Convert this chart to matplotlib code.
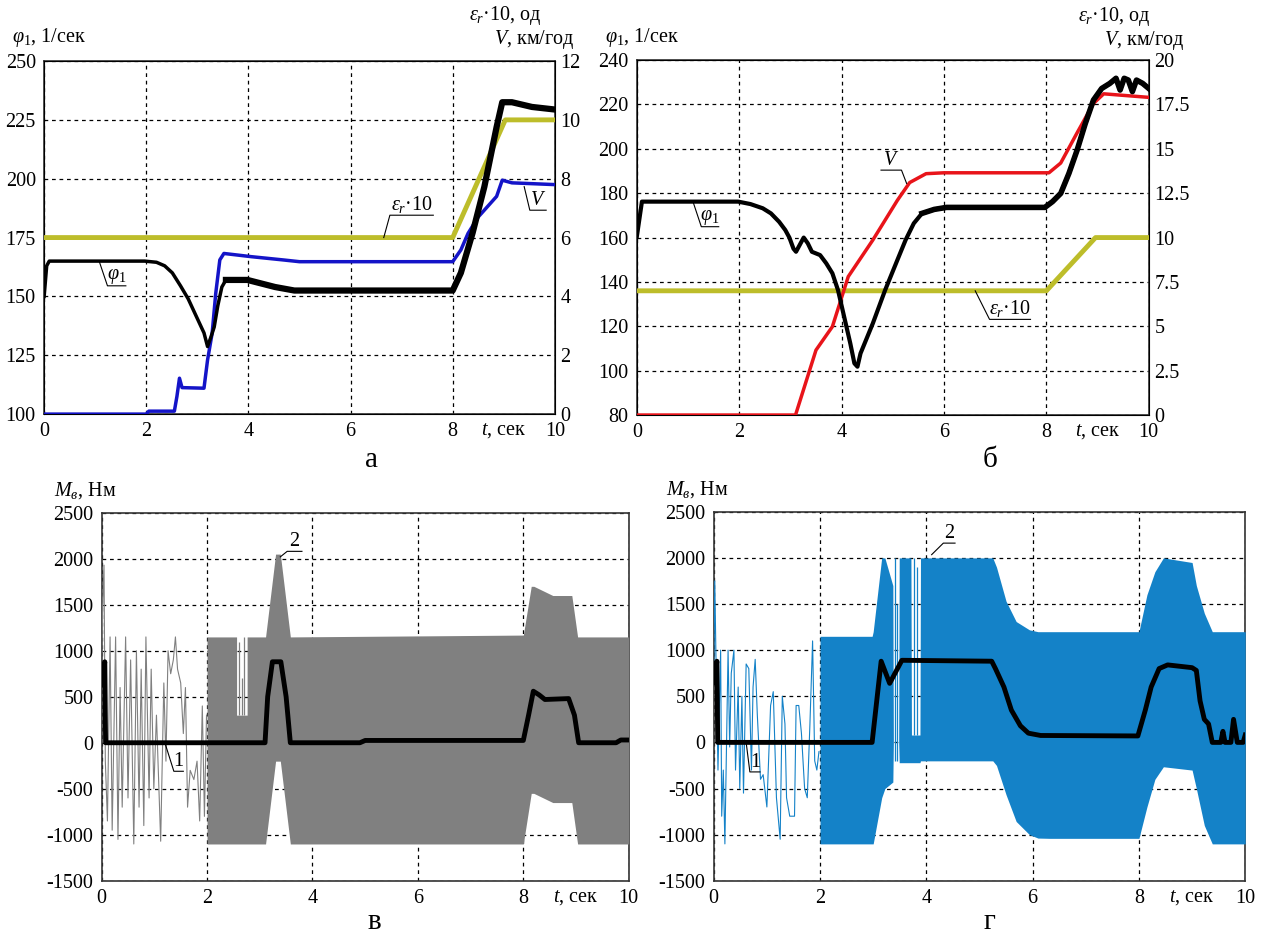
import numpy as np
import matplotlib
matplotlib.use("Agg")
import matplotlib.pyplot as plt
from matplotlib.transforms import blended_transform_factory

plt.rcParams['font.family'] = ['Liberation Serif', 'DejaVu Serif']
plt.rcParams['mathtext.fontset'] = 'custom'
plt.rcParams['mathtext.rm'] = 'Liberation Serif'
plt.rcParams['mathtext.it'] = 'Liberation Serif:italic'
plt.rcParams['axes.unicode_minus'] = False

# ---------------- panel a ----------------
t_phi_a = [0, 0.05, 0.1, 1.97, 2.2, 2.36, 2.51, 2.67, 2.82, 2.98, 3.13, 3.2, 3.27,
           3.33, 3.4, 3.48, 3.56, 3.98, 4.52, 4.9, 8.0, 8.16, 8.39, 8.62, 8.86,
           8.97, 9.16, 9.55, 10]
phi_a = [150, 163, 165, 165, 164.5, 163, 160, 154.5, 149, 141.5, 134.5, 128.7, 133,
         137, 146, 154, 157, 157, 154, 152.5, 152.5, 160, 177, 196.6, 222,
         232.5, 232.5, 230.5, 229.4]
t_eps_a = [0, 8, 9.03, 10]
eps_a = [6, 6, 10, 10]
t_v_a = [0, 2.0, 2.05, 2.55, 2.6, 2.65, 2.7, 3.13, 3.2, 3.29, 3.36, 3.44, 3.52,
         4.06, 4.68, 5.0, 8.0, 8.16, 8.3, 8.5, 8.86, 8.97, 9.16, 10]
v_a = [0, 0, 0.1, 0.1, 0.6, 1.22, 0.9, 0.88, 1.84, 2.75, 4.1, 5.24, 5.46,
       5.35, 5.24, 5.18, 5.18, 5.58, 6.14, 6.7, 7.4, 7.95, 7.86, 7.8]

# ---------------- panel b ----------------
t_phi_b = [0, 0.1, 1.98, 2.22, 2.46, 2.62, 2.78, 2.9, 2.98, 3.06, 3.11, 3.18, 3.26,
           3.34, 3.42, 3.58, 3.7, 3.82, 3.93, 4.05, 4.17, 4.25, 4.31, 4.37, 4.45,
           4.61, 4.85, 5.09, 5.25, 5.41, 5.57, 5.81, 6.05, 7.97, 8.12, 8.28, 8.44,
           8.6, 8.76, 8.92, 9.08, 9.24, 9.36, 9.44, 9.52, 9.6, 9.68, 9.76, 9.88, 10]
phi_b = [160.4, 176.2, 176.2, 175.1, 173.2, 170.9, 167.1, 163.4, 160, 155, 153.6,
         156.6, 160, 157.4, 153.6, 152.1, 148.4, 143.9, 136.3, 124.3, 112.3, 103.3,
         101.8, 107.8, 112.3, 121.3, 136.3, 149.9, 158.9, 166.4, 170.9, 172.7, 173.6,
         173.6, 176.2, 179.9, 188.9, 199.4, 211.4, 222, 227.2, 229.5, 231.8, 226.5,
         231.8, 231, 225.8, 231, 229.5, 227.2]
t_v_b = [0, 3.1, 3.5, 3.82, 4.13, 4.61, 5.09, 5.33, 5.65, 6.0, 8.05, 8.28, 8.6,
         8.92, 9.12, 9.56, 10]
v_b = [0, 0, 3.66, 4.98, 7.8, 9.86, 12.1, 13.1, 13.6, 13.65, 13.65, 14.2, 15.9,
       17.56, 18.1, 18.0, 17.9]
t_eps_b = [0, 8, 8.96, 10]
eps_b = [7, 7, 10, 10]

# ---------------- panel v ----------------
t_zz_c = [0, 0.02, 0.045, 0.07, 0.11, 0.16, 0.20, 0.265, 0.31, 0.35, 0.39, 0.455,
          0.50, 0.55, 0.61, 0.66, 0.71, 0.75, 0.80, 0.84, 0.90, 0.94, 0.99, 1.04,
          1.12, 1.18, 1.22, 1.26, 1.31, 1.36, 1.40, 1.44, 1.50, 1.55, 1.59, 1.63,
          1.68, 1.75, 1.81, 1.86, 1.91, 1.95, 1.99]
m_zz_c = [800, 1500, 1930, -200, -850, 1150, -950, 1150, -1050, 600, -700, 1150,
          -600, 900, -1100, 1000, -700, 800, -900, 1150, -600, 800, -500, 300,
          -1070, 650, -200, 1000, 750, 900, 1150, 800, 650, 100, 600, -700,
          -300, -400, -200, -850, 400, -800, 300]
t_env_c = [2.0, 2.56, 2.56, 2.76, 2.76, 3.11, 3.3, 3.39, 3.58, 8.0, 8.15, 8.2,
           8.56, 8.92, 9.03, 10]
up_c = [1150, 1150, 300, 300, 1150, 1150, 2050, 2050, 1150, 1170, 1700, 1700,
        1600, 1600, 1150, 1150]
lo_c = [-1100, -1100, -1100, -1100, -1100, -1100, -200, -200, -1100, -1100, -550,
        -550, -650, -650, -1100, -1100]
gap_t_c = [2.6, 2.66, 2.71]
gap_lo_c = [300, 300, 300]
gap_hi_c = [1100, 700, 1150]
t_m_c = [0, 0.06, 0.075, 3.1, 3.15, 3.24, 3.4, 3.5, 3.58, 4.9, 5.0, 8.0, 8.1,
         8.19, 8.3, 8.41, 8.86, 8.97, 9.05, 9.76, 9.85, 10]
m_c = [630, 880, 0, 0, 500, 880, 880, 500, 0, 0, 25, 25, 300, 560, 520, 470,
       480, 300, 0, 0, 30, 30]

# ---------------- panel g ----------------
t_zz_d = [0, 0.02, 0.04, 0.08, 0.13, 0.15, 0.18, 0.21, 0.27, 0.30, 0.33, 0.38,
          0.41, 0.46, 0.49, 0.53, 0.56, 0.61, 0.66, 0.71, 0.74, 0.78, 0.82, 0.88,
          0.93, 1.00, 1.07, 1.12, 1.18, 1.25, 1.29, 1.34, 1.37, 1.43, 1.52, 1.55,
          1.60, 1.65, 1.71, 1.76, 1.81, 1.86, 1.90, 1.94, 1.98]
m_zz_d = [800, 1750, 1000, -300, 1000, -800, -300, -1100, 1000, -50, 750, 1000,
          -300, 600, -500, 500, -550, 850, 800, -300, 600, 900, 300, -400,
          -350, -700, 400, 550, -600, -1050, 500, 200, -600, -800, -800, 400,
          400, 100, -500, -600, 200, 1100, -200, -300, -100]
t_env_d = [2.0, 2.98, 3.0, 3.16, 3.22, 3.37, 3.38, 3.48, 3.49, 3.71, 3.72, 3.88,
           3.89, 5.25, 5.32, 5.5, 5.69, 5.94, 6.1, 6.32, 8.0, 8.15, 8.3, 8.46,
           9.0, 9.08, 9.23, 9.38, 10]
up_d = [1150, 1150, 1200, 2000, 2000, 1700, 0, 0, 2000, 2000, 80, 80,
        2000, 2000, 1900, 1530, 1310, 1220, 1200, 1200, 1200, 1600, 1850, 2000,
        1950, 1700, 1400, 1200, 1200]
lo_d = [-1100, -1100, -1100, -600, -500, -430, 0, 0, -220, -220, -220, -220,
        -200, -200, -250, -567, -857, -1000, -1037, -1040, -1040, -700, -400, -264,
        -300, -500, -900, -1100, -1100]
gap_t_d = [3.41, 3.45, 3.76, 3.82]
gap_lo_d = [-200, -200, 80, 80]
gap_hi_d = [2000, 1500, 2000, 1900]
t_m_d = [0, 0.06, 0.075, 2.98, 3.15, 3.31, 3.54, 5.23, 5.3, 5.46, 5.6, 5.77, 5.92,
         6.15, 7.98, 8.12, 8.23, 8.38, 8.54, 9.0, 9.08, 9.15, 9.23, 9.31, 9.38,
         9.54, 9.58, 9.62, 9.73, 9.78, 9.85, 9.96, 10]
m_d = [650, 880, 0, 0, 880, 640, 890, 880, 800, 600, 350, 180, 100, 75, 70, 350,
       600, 800, 840, 810, 780, 450, 250, 200, 0, 0, 120, 0, 0, 250, 0, 0, 80]

OLIVE = '#bdbd2a'
BLUE_A = '#1414c8'
RED = '#e8141a'
GRAY = '#808080'
BLUE_D = '#1482c8'
FS = 14.5


def style(ax):
    ax.set_xlim(0, 10)
    ax.grid(True, color='black', linestyle=(0, (3, 3)), linewidth=0.9)
    ax.set_axisbelow(True)
    for s in ax.spines.values():
        s.set_color('#333333')
        s.set_linewidth(1.2)
    ax.tick_params(length=0, labelsize=FS, pad=6)
    ax.set_xticks([0, 2, 4, 6, 8, 10])
    ax.set_xticklabels(['0', '2', '4', '6', '8', '10'])
    tr = blended_transform_factory(ax.transData, ax.transAxes)
    ax.text(9.0, -0.02, '$t$, сек', transform=tr, ha='center', va='top', fontsize=FS)


def callout(ax, x0, y0, x1, y1, x2, label):
    ax.plot([x0, x1, x2], [y0, y1, y1], color='black', lw=0.8, zorder=6)
    ax.text((x1 + x2) / 2, y1, label, ha='center', va='bottom', fontsize=FS, zorder=6)


fig = plt.figure(figsize=(12.61, 9.39), dpi=100)

# ---- a ----
ax = fig.add_axes([0.035, 0.559, 0.405, 0.376])
style(ax)
ax.set_ylim(100, 250)
ax.set_yticks(np.arange(100, 251, 25))
ax2 = ax.twinx()
ax2.set_ylim(0, 12)
ax2.set_yticks(np.arange(0, 13, 2))
ax2.tick_params(length=0, labelsize=FS, pad=4)
ax2.plot(t_eps_a, eps_a, color=OLIVE, lw=3.5, zorder=3)
ax2.plot(t_v_a, v_a, color=BLUE_A, lw=2.5, zorder=4)
ax2.plot(t_phi_a, np.array(phi_a) / 12.5 - 8, color='black', lw=2.5, zorder=5)
ta = np.array(t_phi_a)
ax2.plot(ta[ta >= 3.56], np.array(phi_a)[ta >= 3.56] / 12.5 - 8, color='black', lw=4.5, zorder=5)
callout(ax2, 1.08, 164.8 / 12.5 - 8, 1.24, 154.5 / 12.5 - 8, 1.6, r'$\varphi_1$')
callout(ax2, 6.65, 6.0, 6.77, 6.76, 7.62, r'$\varepsilon_r$·10')
callout(ax2, 9.4, 7.73, 9.51, 6.93, 9.83, '$V$')
ax.text(-0.062, 1.068, r'$\varphi_{\rm 1}$, 1/сек', transform=ax.transAxes, ha='left', va='center', fontsize=FS)
ax.text(0.903, 1.13, r'$\varepsilon_r$·10, од', transform=ax.transAxes, ha='center', va='center', fontsize=FS)
ax.text(0.96, 1.06, '$V$, км/год', transform=ax.transAxes, ha='center', va='center', fontsize=FS)

# ---- b ----
bx = fig.add_axes([0.505, 0.558, 0.406, 0.378])
style(bx)
bx.set_ylim(80, 240)
bx.set_yticks(np.arange(80, 241, 20))
bx2 = bx.twinx()
bx2.set_ylim(0, 20)
bx2.set_yticks(np.arange(0, 20.1, 2.5))
bx2.set_yticklabels(['0', '2.5', '5', '7.5', '10', '12.5', '15', '17.5', '20'])
bx2.tick_params(length=0, labelsize=FS, pad=4)
bx2.plot(t_eps_b, eps_b, color=OLIVE, lw=3.5, zorder=3)
bx2.plot(t_v_b, v_b, color=RED, lw=2.5, zorder=4)
phb = (np.array(phi_b) - 80) / 8
tb = np.array(t_phi_b)
bx2.plot(tb, phb, color='black', lw=3, zorder=5)
bx2.plot(tb[tb >= 5.57], phb[tb >= 5.57], color='black', lw=4, zorder=5)
callout(bx2, 1.1, (176 - 80) / 8, 1.26, (164.9 - 80) / 8, 1.6, r'$\varphi_1$')
callout(bx2, 6.61, 7.0, 6.89, 5.39, 7.69, r'$\varepsilon_r$·10')
bx2.plot([4.77, 5.17, 5.27], [13.8, 13.8, 13.05], color='black', lw=0.8, zorder=6)
bx2.text(4.97, 13.8, '$V$', ha='center', va='bottom', fontsize=FS)
bx.text(-0.0625, 1.065, r'$\varphi_{\rm 1}$, 1/сек', transform=bx.transAxes, ha='left', va='center', fontsize=FS)
bx.text(0.932, 1.123, r'$\varepsilon_r$·10, од', transform=bx.transAxes, ha='center', va='center', fontsize=FS)
bx.text(0.992, 1.054, '$V$, км/год', transform=bx.transAxes, ha='center', va='center', fontsize=FS)


def torque(pos, color, t_zz, m_zz, t_env, up, lo, gaps, t_m, m, c1, c2):
    a = fig.add_axes(pos)
    style(a)
    a.set_ylim(-1500, 2500)
    a.set_yticks(np.arange(-1500, 2501, 500))
    a.plot(t_zz, m_zz, color=color, lw=0.8, zorder=3)
    a.fill_between(t_env, lo, up, color=color, lw=0, zorder=3)
    a.vlines(gaps[0], gaps[1], gaps[2], color=color, lw=0.9, zorder=3)
    a.plot(t_m, m, color='black', lw=3.5, zorder=5)
    callout(a, *c1, '1')
    callout(a, *c2, '2')
    a.text(-0.09, 1.06, '$M_{в}$, Нм', transform=a.transAxes, ha='left', va='center', fontsize=FS)
    return a


torque([0.0806, 0.062, 0.418, 0.392], GRAY, t_zz_c, m_zz_c, t_env_c, up_c, lo_c,
       (gap_t_c, gap_lo_c, gap_hi_c),
       t_m_c, m_c, (1.2, 0, 1.37, -310, 1.55), (3.39, 2020, 3.52, 2080, 3.8))
torque([0.566, 0.062, 0.4215, 0.393], BLUE_D, t_zz_d, m_zz_d, t_env_d, up_d, lo_d,
       (gap_t_d, gap_lo_d, gap_hi_d),
       t_m_d, m_d, (0.61, 0, 0.68, -320, 0.87), (4.1, 2035, 4.32, 2160, 4.54))

for x, y, s in [(0.295, 0.51, 'а'), (0.785, 0.51, 'б'), (0.297, 0.018, 'в'), (0.785, 0.018, 'г')]:
    fig.text(x, y, s, ha='center', va='center', fontsize=21)

fig.savefig('out.png', dpi=100)
